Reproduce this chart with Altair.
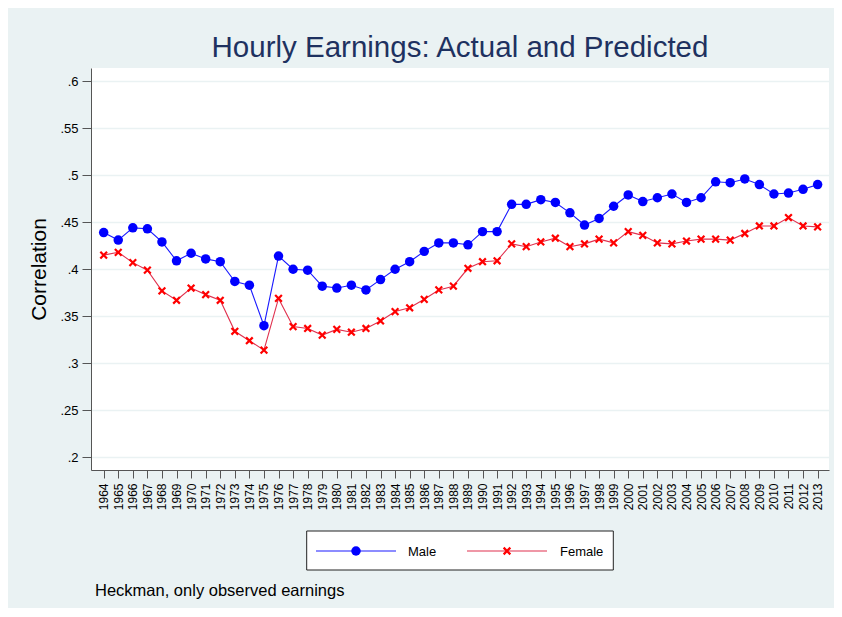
import altair as alt
import pandas as pd

years = list(range(1964, 2014))
male = [0.439, 0.431, 0.444, 0.443, 0.429, 0.409, 0.417, 0.411, 0.408, 0.387,
        0.383, 0.340, 0.414, 0.400, 0.399, 0.382, 0.380, 0.383, 0.378, 0.389,
        0.400, 0.408, 0.419, 0.428, 0.428, 0.426, 0.440, 0.440, 0.469, 0.469,
        0.474, 0.471, 0.460, 0.447, 0.454, 0.467, 0.479, 0.472, 0.476, 0.480,
        0.471, 0.476, 0.493, 0.492, 0.496, 0.490, 0.480, 0.481, 0.485, 0.490]
female = [0.415, 0.418, 0.407, 0.399, 0.377, 0.367, 0.380, 0.373, 0.367, 0.334,
          0.324, 0.314, 0.369, 0.339, 0.337, 0.330, 0.336, 0.333, 0.337, 0.345,
          0.355, 0.359, 0.368, 0.378, 0.382, 0.401, 0.408, 0.409, 0.427, 0.424,
          0.429, 0.433, 0.424, 0.427, 0.432, 0.428, 0.440, 0.436, 0.428, 0.427,
          0.430, 0.432, 0.432, 0.431, 0.438, 0.446, 0.446, 0.455, 0.446, 0.445]
series_names = ["Male", "Female"]
y_ticks = [0.2, 0.25, 0.3, 0.35, 0.4, 0.45, 0.5, 0.55, 0.6]
note = "Heckman, only observed earnings"
title = "Hourly Earnings: Actual and Predicted"

BLUE = "#0000ff"
BLUE_LINE = "#1a1aff"
RED = "#ff0000"
RED_LINE = "#e0304e"
FONT = "Liberation Sans"

df = pd.DataFrame({
    "year": years * 2,
    "value": male + female,
    "series": ["Male"] * len(years) + ["Female"] * len(years),
})

W, H = 738, 402

x = alt.X("year:Q",
          scale=alt.Scale(domain=[1963.13, 2013.78], nice=False, zero=False),
          axis=alt.Axis(values=years, format="d", labelAngle=270, grid=False,
                        tickSize=8, labelPadding=5, labelFontSize=12,
                        labelFont=FONT, labelColor="#000000", title=None,
                        domainColor="#555555", tickColor="#555555",
                        labelOverlap=False, labelFlush=False))
y = alt.Y("value:Q",
          scale=alt.Scale(domain=[0.1865, 0.614], nice=False, zero=False),
          axis=alt.Axis(values=y_ticks,
                        labelExpr="substring(format(datum.value, '.2~f'), 1)",
                        tickSize=9, labelPadding=4, labelFontSize=13,
                        labelFont=FONT, labelColor="#000000",
                        title="Correlation", titleFont=FONT, titleFontSize=21,
                        titleFontWeight="normal", titleColor="#000000",
                        titlePadding=10,
                        gridColor="#eaf2f3", gridWidth=1.6,
                        domainColor="#555555", tickColor="#555555"))

color_scale = alt.Scale(domain=series_names, range=[BLUE_LINE, RED_LINE])

lines = alt.Chart(df).mark_line(strokeWidth=1.1).encode(
    x=x, y=y, color=alt.Color("series:N", scale=color_scale, legend=None),
    detail="series:N")

male_pts = alt.Chart(df).transform_filter(alt.datum.series == "Male").mark_point(
    filled=True, shape="circle", size=90, color=BLUE, opacity=1).encode(x=x, y=y)

XPATH = "M-1,-1L1,1M1,-1L-1,1"
female_pts = alt.Chart(df).transform_filter(alt.datum.series == "Female").mark_point(
    filled=False, shape=XPATH, size=45, color=RED, strokeWidth=2.2, opacity=1).encode(x=x, y=y)

# legend (drawn below the plot)
one = pd.DataFrame({"k": [0]})
leg_box = alt.Chart(one).mark_rect(fill="white", stroke="#222222", strokeWidth=1).encode(
    x=alt.value(215.7), x2=alt.value(522.3), y=alt.value(463), y2=alt.value(502))
leg_m_line = alt.Chart(one).mark_rule(color=BLUE_LINE, strokeWidth=1.1).encode(
    x=alt.value(225), x2=alt.value(305), y=alt.value(483))
leg_m_pt = alt.Chart(one).mark_point(filled=True, shape="circle", size=90, color=BLUE, opacity=1).encode(
    x=alt.value(265), y=alt.value(483))
leg_m_txt = alt.Chart(pd.DataFrame({"t": [series_names[0]]})).mark_text(
    align="left", baseline="middle", font=FONT, fontSize=13, color="#000000").encode(
    x=alt.value(317), y=alt.value(484), text="t:N")
leg_f_line = alt.Chart(one).mark_rule(color=RED_LINE, strokeWidth=1.1).encode(
    x=alt.value(376), x2=alt.value(456), y=alt.value(483))
leg_f_pt = alt.Chart(one).mark_point(filled=False, shape=XPATH, size=45, color=RED,
                                     strokeWidth=2.2, opacity=1).encode(
    x=alt.value(416), y=alt.value(483))
leg_f_txt = alt.Chart(pd.DataFrame({"t": [series_names[1]]})).mark_text(
    align="left", baseline="middle", font=FONT, fontSize=13, color="#000000").encode(
    x=alt.value(469), y=alt.value(484), text="t:N")
note_txt = alt.Chart(pd.DataFrame({"t": [note]})).mark_text(
    align="left", baseline="alphabetic", font=FONT, fontSize=16.5, color="#000000").encode(
    x=alt.value(4), y=alt.value(528), text="t:N")

chart = alt.layer(
    lines, male_pts, female_pts,
    leg_box, leg_m_line, leg_m_pt, leg_m_txt,
    leg_f_line, leg_f_pt, leg_f_txt, note_txt,
).properties(
    width=W, height=H,
    background="#eaf2f3",
    padding={"left": 83, "top": 60, "right": 5, "bottom": 138},
    autosize=alt.AutoSizeParams(type="none"),
    title=alt.Title(title, font=FONT, fontSize=29.5, fontWeight="normal",
                    color="#1e3160", anchor="middle", offset=5),
).configure_view(fill="white", stroke=None)

chart.save("out.html", embed_options={"renderer": "svg", "actions": False})
